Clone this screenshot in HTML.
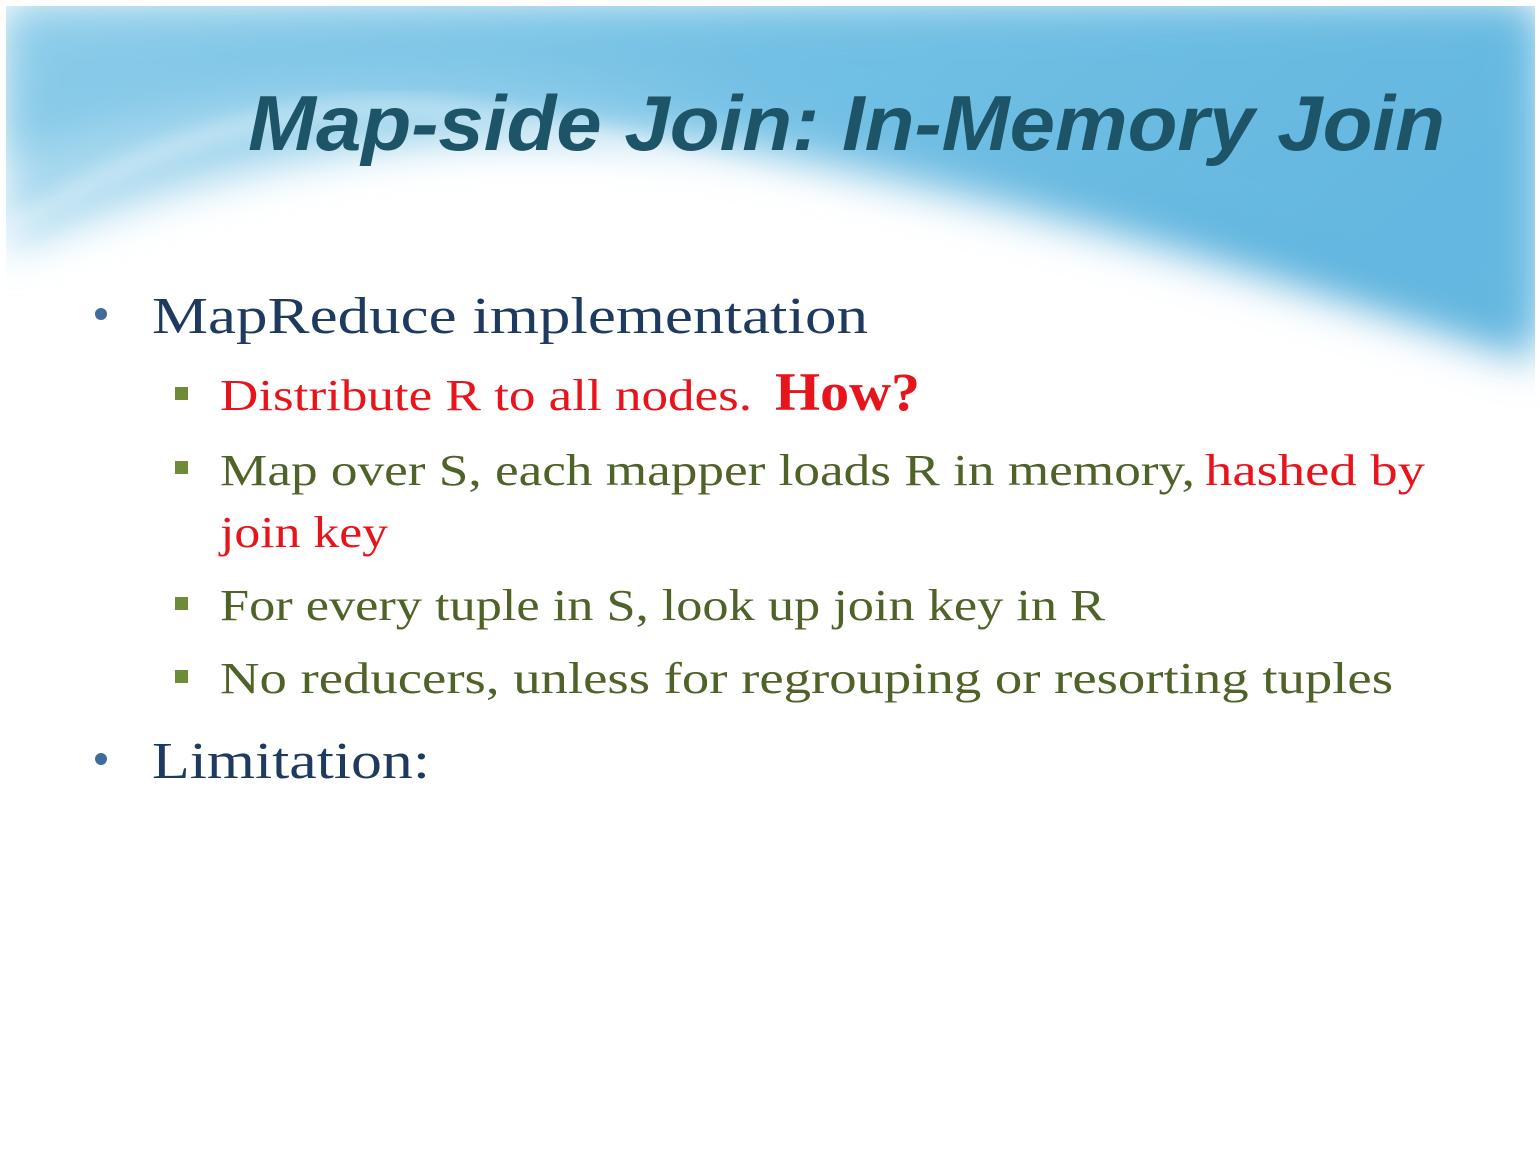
<!DOCTYPE html>
<html><head><style>html,body{margin:0;padding:0;background:#fff}svg{display:block}</style></head><body>
<svg width="1540" height="1155" viewBox="0 0 1540 1155" xmlns="http://www.w3.org/2000/svg">
<defs>
<linearGradient id="bg" x1="0" y1="0" x2="1" y2="0.3">
<stop offset="0" stop-color="#bfe3f3"/><stop offset="0.5" stop-color="#7cc4e6"/><stop offset="1" stop-color="#5ab0dc"/>
</linearGradient>
<filter id="bl" x="-10%" y="-10%" width="120%" height="130%"><feGaussianBlur stdDeviation="22"/></filter>
<filter id="bl2"><feGaussianBlur stdDeviation="10"/></filter>
</defs>
<rect x="0" y="0" width="1540" height="1155" fill="#fff"/>
<g>
<path d="M6,6 H1535 V360 C1350,300 1100,220 800,160 C550,110 300,130 6,250 Z" fill="url(#bg)" filter="url(#bl)"/>
<path d="M6,6 H1535 V340 C1300,260 1050,150 700,90 C450,55 200,90 6,160 Z" fill="#6cbde3" opacity="0.6" filter="url(#bl)"/>
<path d="M6,230 C150,140 300,95 450,110 C650,135 800,210 1000,270" fill="none" stroke="#ffffff" stroke-width="14" opacity="0.5" filter="url(#bl2)"/>
<rect x="0" y="0" width="1540" height="6" fill="#fff"/>
<rect x="1535" y="0" width="5" height="400" fill="#fff"/>
<rect x="0" y="0" width="6" height="300" fill="#fff"/>
</g>
<text x="248" y="150" font-family="Liberation Sans, sans-serif" font-weight="bold" font-style="italic" font-size="78" fill="#1d5468" textLength="1197" lengthAdjust="spacingAndGlyphs">Map-side Join: In-Memory Join</text>
<g font-family="Liberation Serif, serif">
<circle cx="101" cy="314" r="6" fill="#3f6c9c"/>
<text x="152" y="333" font-size="52" fill="#1f3a5f" textLength="716" lengthAdjust="spacingAndGlyphs">MapReduce implementation</text>
<rect x="175" y="387" width="13" height="13" fill="#6e8c38"/>
<text x="220" y="410" font-size="44" fill="#e8141b" textLength="532" lengthAdjust="spacingAndGlyphs">Distribute R to all nodes.</text>
<text x="775" y="410" font-size="54" font-weight="bold" fill="#e8141b" textLength="145" lengthAdjust="spacingAndGlyphs">How?</text>
<rect x="175" y="461" width="13" height="13" fill="#6e8c38"/>
<text x="220" y="485" font-size="44" fill="#4f6228" textLength="975" lengthAdjust="spacingAndGlyphs">Map over S, each mapper loads R in memory,</text>
<text x="1205" y="485" font-size="44" fill="#e8141b" textLength="220" lengthAdjust="spacingAndGlyphs">hashed by</text>
<text x="220" y="547" font-size="44" fill="#e8141b" textLength="168" lengthAdjust="spacingAndGlyphs">join key</text>
<rect x="175" y="597" width="13" height="13" fill="#6e8c38"/>
<text x="220" y="620" font-size="44" fill="#4f6228" textLength="885" lengthAdjust="spacingAndGlyphs">For every tuple in S, look up join key in R</text>
<rect x="175" y="670" width="13" height="13" fill="#6e8c38"/>
<text x="220" y="693" font-size="44" fill="#4f6228" textLength="1173" lengthAdjust="spacingAndGlyphs">No reducers, unless for regrouping or resorting tuples</text>
<circle cx="101" cy="759" r="6" fill="#3f6c9c"/>
<text x="152" y="778" font-size="52" fill="#1f3a5f" textLength="278" lengthAdjust="spacingAndGlyphs">Limitation:</text>
</g>
</svg>
</body></html>
